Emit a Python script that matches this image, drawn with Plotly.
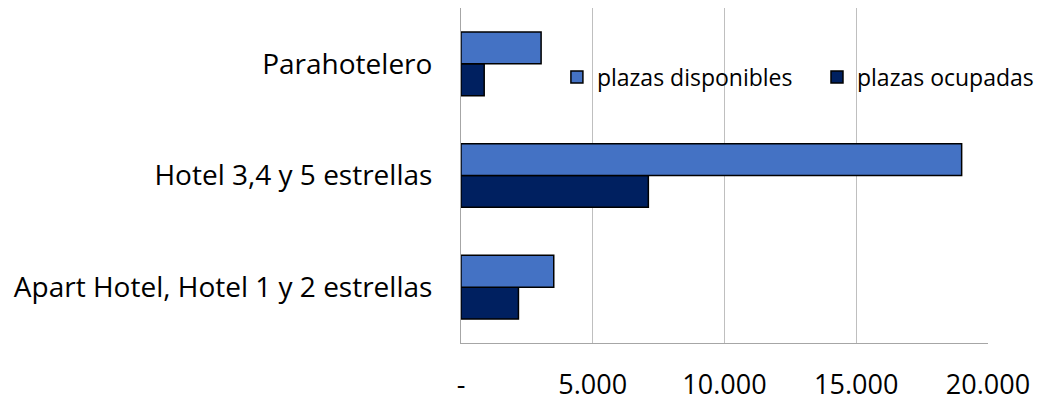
import plotly.graph_objects as go

categories = ["Apart Hotel, Hotel 1 y 2 estrellas", "Hotel 3,4 y 5 estrellas", "Parahotelero"]
plazas_disponibles = [3520, 19000, 3040]
plazas_ocupadas = [2180, 7110, 880]
tick_vals = [0, 5000, 10000, 15000, 20000]
tick_text = ["-", "5.000", "10.000", "15.000", "20.000"]

FONT = "'Open Sans', sans-serif"

fig = go.Figure()
# ocupadas first so that disponibles is drawn on top within each group
fig.add_trace(go.Bar(
    y=categories, x=plazas_ocupadas, orientation="h", name="plazas ocupadas",
    marker=dict(color="#002060", line=dict(color="#000000", width=1.5)),
    legend="legend2",
))
fig.add_trace(go.Bar(
    y=categories, x=plazas_disponibles, orientation="h", name="plazas disponibles",
    marker=dict(color="#4472C4", line=dict(color="#000000", width=1.5)),
    legend="legend",
))

leg_common = dict(
    orientation="h", y=0.794, xanchor="left", yanchor="middle",
    font=dict(size=23, family=FONT), bgcolor="rgba(0,0,0,0)",
)

fig.update_layout(
    width=1039, height=401,
    margin=dict(l=461, r=51, t=8, b=58, autoexpand=False),
    paper_bgcolor="white", plot_bgcolor="white",
    barmode="group", bargap=0.43, bargroupgap=0,
    font=dict(family=FONT, size=28, color="#000000"),
    showlegend=True,
    legend=dict(x=0.182, **leg_common),
    legend2=dict(x=0.6755, **leg_common),
    xaxis=dict(
        range=[0, 20000], tickvals=tick_vals, ticktext=tick_text,
        showgrid=True, gridcolor="#BFBFBF", gridwidth=1, automargin=False,
        zeroline=False, showline=True, linecolor="#A6A6A6", linewidth=1,
        ticks="", ticklabelstandoff=18, tickfont=dict(size=27),
    ),
    yaxis=dict(
        autorange=False, range=[-0.5, 2.5], automargin=False,
        showline=True, linecolor="#A6A6A6", linewidth=1,
        showgrid=False, zeroline=False, ticks="", ticklabelstandoff=22,
        tickfont=dict(size=28),
    ),
)

fig.write_html(
    "out.html",
    config={"displayModeBar": False},
    post_script="document.body.style.margin='0';document.body.style.overflow='hidden';",
)
